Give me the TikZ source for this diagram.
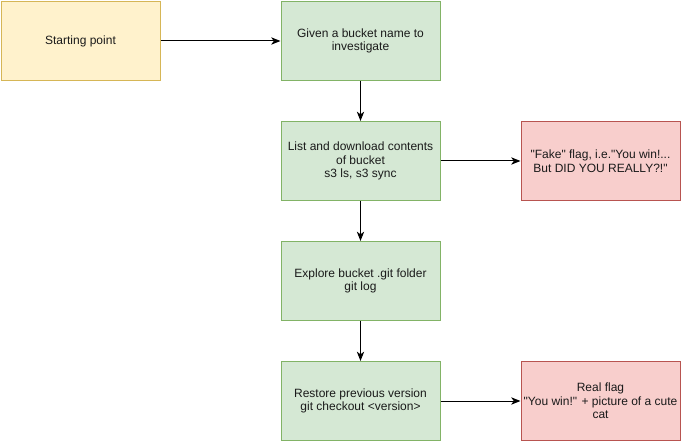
\documentclass[tikz,border=0pt]{standalone}
\usepackage{fontspec}
\setmainfont{Liberation Sans}
\usetikzlibrary{arrows.meta}
\definecolor{yfill}{HTML}{FFF2CC}
\definecolor{ystroke}{HTML}{D6B656}
\definecolor{gfill}{HTML}{D5E8D4}
\definecolor{gstroke}{HTML}{82B366}
\definecolor{rfill}{HTML}{F8CECC}
\definecolor{rstroke}{HTML}{B85450}
\definecolor{txt}{HTML}{1A1A1A}
\newcommand{\qq}{\textquotedbl}
\begin{document}
\begin{tikzpicture}[x=0.75pt,y=-0.75pt,
  box/.style={draw,line width=0.75pt,minimum width=119.25pt,minimum height=59.25pt,inner sep=2pt,align=center,font=\fontsize{9pt}{10.2pt}\selectfont,text=txt},
  ybox/.style={box,fill=yfill,draw=ystroke},
  gbox/.style={box,fill=gfill,draw=gstroke},
  rbox/.style={box,fill=rfill,draw=rstroke},
  conn/.style={draw,line width=0.75pt,-{Stealth[length=7pt,width=5.5pt,inset=2pt]}}]
\useasboundingbox (0,0) rectangle (681,441);
\node[ybox] (start) at (80.5,41) {Starting point};
\node[gbox] (given) at (360.5,41) {Given a bucket name to\\investigate};
\node[gbox] (list) at (360.5,161) {List and download contents\\of bucket\\s3 ls, s3 sync};
\node[rbox] (fake) at (600.5,161) {\qq Fake\qq{} flag, i.e.\qq You win!...\\But DID YOU REALLY?!\qq};
\node[gbox] (explore) at (360.5,281) {Explore bucket .git folder\\git log};
\node[gbox] (restore) at (360.5,401) {Restore previous version\\git checkout <version>};
\node[rbox] (real) at (600.5,401) {Real flag\\\qq You win!\qq{} + picture of a cute\\cat};
\draw[conn] (start) -- (given);
\draw[conn] (given) -- (list);
\draw[conn] (list) -- (fake);
\draw[conn] (list) -- (explore);
\draw[conn] (explore) -- (restore);
\draw[conn] (restore) -- (real);
\end{tikzpicture}
\end{document}
